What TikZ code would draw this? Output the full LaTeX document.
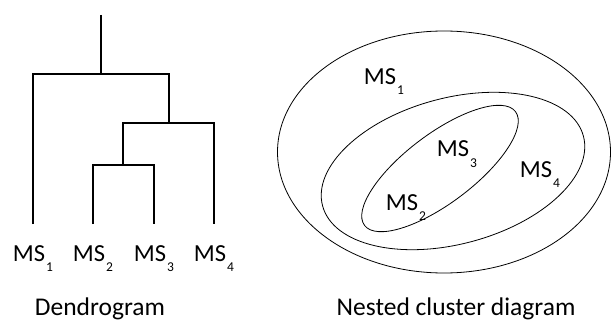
\documentclass[tikz,border=0pt]{standalone}
\usepackage{fontspec}
\setmainfont{Carlito}
\newcommand{\mslab}[1]{MS\hspace{1pt}\raisebox{-10pt}{\fontsize{13.5}{13.5}\selectfont #1}}
\begin{document}
\begin{tikzpicture}[x=1pt,y=1pt,
  tree/.style={line width=1.7pt},
  ring/.style={line width=0.8pt},
  lab/.style={anchor=base,inner sep=0pt,font=\fontsize{24.5}{24.5}\selectfont},
  captxt/.style={anchor=base,inner sep=0pt,font=\fontsize{25.5}{25.5}\selectfont}]
\useasboundingbox (0,0) rectangle (611,322);
% dendrogram coordinates
\coordinate (rt) at (101,307);
\coordinate (r) at (101,248);
\coordinate (aL) at (33,248);
\coordinate (aR) at (169,248);
\coordinate (a1) at (33,98);
\coordinate (b) at (169,199);
\coordinate (bL) at (123,199);
\coordinate (bR) at (214,199);
\coordinate (b4) at (214,98);
\coordinate (c) at (123,157);
\coordinate (cL) at (93,157);
\coordinate (cR) at (154,157);
\coordinate (c2) at (93,98);
\coordinate (c3) at (154,98);
\draw[tree] (rt) -- (r);
\draw[tree] (a1) -- (aL) -- (aR) -- (b);
\draw[tree] (c) -- (bL) -- (bR) -- (b4);
\draw[tree] (c2) -- (cL) -- (cR) -- (c3);
\node[lab] (m1) at (33,61) {\mslab{1}};
\node[lab] (m2) at (93,61) {\mslab{2}};
\node[lab] (m3) at (154,61) {\mslab{3}};
\node[lab] (m4) at (214,61) {\mslab{4}};
\node[captxt] (d) at (100,6.5) {Dendrogram};
% nested
\draw[ring] (444,170) ellipse [x radius=166.5, y radius=121];
\draw[ring] (453,151) ellipse [x radius=135, y radius=73, rotate=15];
\draw[ring] (440,153.5) ellipse [x radius=94.5, y radius=34.5, rotate=37];
\node[lab] (n1) at (384,237) {\mslab{1}};
\node[lab] (n3) at (457,165) {\mslab{3}};
\node[lab] (n4) at (540,145) {\mslab{4}};
\node[lab] (n2) at (406,112) {\mslab{2}};
\node[captxt] (nc) at (456,6.5) {Nested cluster diagram};
\end{tikzpicture}
\end{document}
